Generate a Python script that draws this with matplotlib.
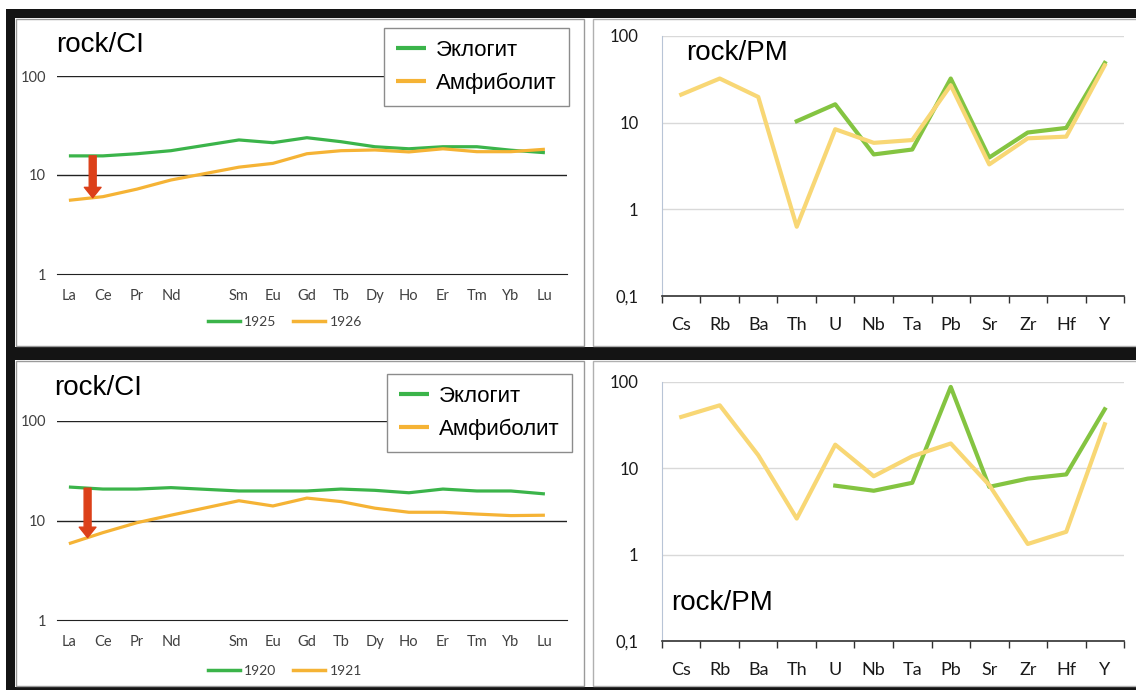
import numpy as np
import matplotlib.pyplot as plt
from matplotlib.patches import Rectangle
from matplotlib.lines import Line2D

# REE (chondrite-normalised) panels, Pm left empty
ree = ["La", "Ce", "Pr", "Nd", "", "Sm", "Eu", "Gd", "Tb", "Dy", "Ho", "Er", "Tm", "Yb", "Lu"]
nan = np.nan
tl_ecl = [15.6, 15.6, 16.4, 17.6, nan, 22.6, 21.2, 23.8, 21.7, 19.3, 18.4, 19.3, 19.3, 17.8, 16.8]
tl_amf = [5.55, 6.04, 7.2, 8.9, nan, 12.0, 13.1, 16.4, 17.6, 17.9, 17.1, 18.4, 17.2, 17.2, 18.2]
bl_ecl = [21.7, 20.7, 20.7, 21.4, nan, 19.8, 19.8, 19.8, 20.7, 20.1, 19.0, 20.7, 19.8, 19.8, 18.5]
bl_amf = [5.85, 7.55, 9.5, 11.3, nan, 15.8, 14.0, 16.8, 15.5, 13.3, 12.1, 12.1, 11.6, 11.2, 11.3]
tl_years = ["1925", "1926"]
bl_years = ["1920", "1921"]
tl_arrow_x = 0.7
bl_arrow_x = 0.55

# spider diagrams (primitive mantle)
spider = ["Cs", "Rb", "Ba", "Th", "U", "Nb", "Ta", "Pb", "Sr", "Zr", "Hf", "Y"]
tr_ecl = [nan, nan, nan, 10.4, 16.3, 4.3, 4.9, 32.3, 3.96, 7.7, 8.7, 48.9]
tr_amf = [21.1, 32.3, 19.8, 0.63, 8.4, 5.85, 6.3, 27.0, 3.3, 6.6, 6.9, 45.9]
br_ecl = [nan, nan, nan, nan, 6.3, 5.5, 6.8, 87.7, 6.1, 7.6, 8.5, 48.3]
br_amf = [39.4, 53.7, 14.2, 2.62, 18.8, 8.1, 13.8, 19.4, 6.4, 1.33, 1.84, 32.4]

names = ["Эклогит", "Амфиболит"]

W, H = 1136, 690
fig = plt.figure(figsize=(W / 100, H / 100), dpi=100, facecolor="white")


def rect(x0, y0, x1, y1):
    return [x0 / W, 1 - y1 / H, (x1 - x0) / W, (y1 - y0) / H]


def box(x0, y0, x1, y1, fc, ec="none", lw=0):
    fig.patches.append(Rectangle((x0 / W, 1 - y1 / H), (x1 - x0) / W, (y1 - y0) / H,
                                 transform=fig.transFigure, facecolor=fc,
                                 edgecolor=ec, linewidth=lw, zorder=-5))


# frame
box(6, 9, W, H, "#141414")
box(15, 18, W, 347, "white")
box(15, 360, W, 687, "white")
for y0, y1 in [(18, 347), (360, 687)]:
    box(16, y0 + 1, 584, y1 - 1, "none", "#9a9a9a", 1)
    box(593, y0 + 1, W + 2, y1 - 1, "none", "#b0b0b0", 1)

GREEN_L, ORANGE_L = "#3bb44a", "#f5b335"
GREEN_R, YELLOW_R = "#84c441", "#f8d775"
ARROW = "#dc4019"
TICKC = "#404040"


def ree_panel(r, ecl, amf, years, arrow_x, leg_xy, yleg, title_xy):
    ax = fig.add_axes(rect(*r))
    x = np.arange(len(ree))
    ecl = np.array(ecl)
    amf = np.array(amf)
    m = ~np.isnan(ecl)
    l1, = ax.plot(x[m], ecl[m], color=GREEN_L, lw=2.3, solid_capstyle="butt", zorder=3)
    l2, = ax.plot(x[m], amf[m], color=ORANGE_L, lw=2.3, solid_capstyle="butt", zorder=4)
    ax.set_yscale("log")
    ax.set_ylim(1, 100)
    ax.set_xlim(-0.35, 14.65)
    for v in [10, 100]:
        ax.axhline(v, color="#222222", lw=1, zorder=1)
    for s in ["top", "right", "left"]:
        ax.spines[s].set_visible(False)
    ax.spines["bottom"].set_color("#222222")
    ax.set_yticks([1, 10, 100])
    ax.set_yticklabels(["1", "10", "100"])
    ax.yaxis.set_minor_locator(plt.NullLocator())
    ax.set_xticks(x)
    ax.set_xticklabels(ree)
    ax.tick_params(axis="both", length=0, labelsize=10.5, labelcolor=TICKC)
    ax.tick_params(axis="x", pad=11)
    ax.tick_params(axis="y", pad=8)
    for t in ax.get_xticklabels() + ax.get_yticklabels():
        t.set_fontfamily("Lato")
    ax.patch.set_alpha(0)
    # arrow from Eclogite down to Amphibolite
    xs = x[m]
    y_top = 10 ** np.interp(arrow_x, xs, np.log10(ecl[m]))
    y_bot = 10 ** np.interp(arrow_x, xs, np.log10(amf[m]))
    ax.annotate("", xy=(arrow_x, y_bot), xytext=(arrow_x, y_top),
                arrowprops=dict(arrowstyle="simple,head_width=1.2,head_length=0.75,tail_width=0.5",
                                mutation_scale=10, color=ARROW, shrinkA=0, shrinkB=0),
                zorder=5)
    ax.text(title_xy[0] / W, 1 - title_xy[1] / H, "rock/CI", transform=fig.transFigure,
            fontsize=20, family="Liberation Sans", va="center", ha="left")
    leg = ax.legend([l1, l2], names, loc="upper left",
                    bbox_to_anchor=(leg_xy[0] / W, 1 - leg_xy[1] / H),
                    bbox_transform=fig.transFigure, fancybox=False, framealpha=1,
                    edgecolor="#8c8c8c", prop={"family": "Liberation Sans", "size": 16},
                    handlelength=1.35, handletextpad=0.45, labelspacing=0.5,
                    borderpad=0.55, borderaxespad=0)
    leg.get_frame().set_linewidth(1)
    for h in leg.get_lines():
        h.set_linewidth(3)
    ax.add_artist(leg)
    ax.legend([Line2D([], [], color=GREEN_L, lw=2.5), Line2D([], [], color=ORANGE_L, lw=2.5)],
              years, loc="center", bbox_to_anchor=(285 / W, 1 - yleg / H),
              bbox_transform=fig.transFigure, frameon=False, ncol=2,
              prop={"family": "Lato", "size": 10}, handlelength=2.3,
              handletextpad=0.3, columnspacing=1.2, labelcolor=TICKC)
    return ax


ree_panel((57, 76, 567, 274), tl_ecl, tl_amf, tl_years, tl_arrow_x, (384, 28), 322, (56, 45))
ree_panel((57, 421, 567, 620), bl_ecl, bl_amf, bl_years, bl_arrow_x, (387, 374), 671, (54, 388))


def spider_panel(r, ecl, amf, label_xy):
    ax = fig.add_axes(rect(*r))
    x = np.arange(len(spider))
    ax.plot(x, ecl, color=GREEN_R, lw=3, zorder=3)
    ax.plot(x, amf, color=YELLOW_R, lw=3, zorder=4)
    ax.set_yscale("log")
    ax.set_ylim(0.1, 100)
    ax.set_xlim(-0.5, len(spider) - 0.5)
    for v in [1, 10, 100]:
        ax.axhline(v, color="#d9d9d9", lw=1, zorder=1)
    ax.spines["top"].set_visible(False)
    ax.spines["right"].set_visible(False)
    ax.spines["left"].set_color("#b8c4d6")
    ax.spines["bottom"].set_color("#303030")
    ax.spines["bottom"].set_linewidth(1.2)
    ax.set_yticks([0.1, 1, 10, 100])
    ax.set_yticklabels(["0,1", "1", "10", "100"])
    ax.yaxis.set_minor_locator(plt.NullLocator())
    ax.set_xticks(x)
    ax.set_xticklabels(spider)
    ax.set_xticks(np.arange(-0.5, len(spider)), minor=True)
    ax.tick_params(axis="x", which="minor", length=5, width=1, color="#303030", direction="out")
    ax.tick_params(axis="x", which="major", length=0, pad=15, labelsize=13, labelcolor="#1a1a1a")
    ax.tick_params(axis="y", which="both", length=0, pad=17, labelsize=12, labelcolor="#1a1a1a")
    for t in ax.get_xticklabels() + ax.get_yticklabels():
        t.set_fontfamily("Lato")
    ax.patch.set_alpha(0)
    ax.text(label_xy[0] / W, 1 - label_xy[1] / H, "rock/PM", transform=fig.transFigure,
            fontsize=20, family="Liberation Sans", va="center", ha="left")
    return ax


spider_panel((662, 36, 1124, 296), tr_ecl, tr_amf, (686, 53))
spider_panel((662, 382, 1124, 641), br_ecl, br_amf, (671, 603))

fig.savefig("out.png", dpi=100, facecolor="white")
